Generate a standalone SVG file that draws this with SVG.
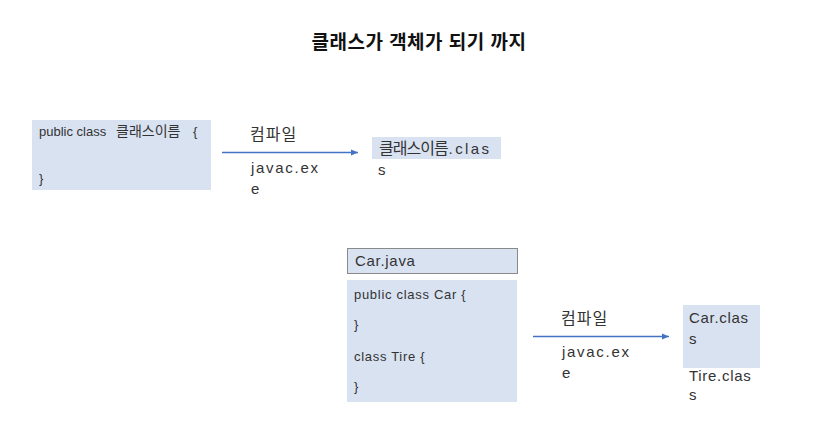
<svg xmlns="http://www.w3.org/2000/svg" width="827" height="438" viewBox="0 0 827 438">
<style>
.box{fill:#d9e2f1;}
.t{font-family:"Liberation Sans","Noto Sans CJK KR",sans-serif;fill:#333;}
.s{font-size:13px;}
.s2{font-size:13px;letter-spacing:0.7px;}
.m{font-size:15px;letter-spacing:0.7px;}
.k{font-size:16px;letter-spacing:1px;}
.j{font-size:15px;letter-spacing:1.7px;}
.c{stroke:#4472c4;stroke-width:1.3;fill:none;}
</style>
<defs>
<marker id="ah" markerWidth="8" markerHeight="8" refX="7" refY="4" orient="auto" markerUnits="userSpaceOnUse">
<path d="M0,1 L7,4 L0,7 Z" fill="#4472c4"/>
</marker>
</defs>
<rect width="827" height="438" fill="#fff"/>
<text x="419" y="49" text-anchor="middle" class="t" style="font-size:19px;letter-spacing:0.5px;font-weight:bold;fill:#111">클래스가 객체가 되기 까지</text>
<g id="src1">
<rect class="box" x="32" y="120" width="179" height="70"/>
<text class="t s" x="39" y="136">public class</text>
<text class="t s" x="116" y="136" style="font-size:14px;letter-spacing:0px">클래스이름</text>
<text class="t s" x="193" y="136">{</text>
<text class="t s" x="39" y="183">}</text>
</g>
<g id="cls1">
<rect class="box" x="372" y="137" width="129" height="22"/>
<text class="t m" x="379" y="154"><tspan style="font-size:16px;letter-spacing:-1px">클래스이름</tspan><tspan dx="1" style="letter-spacing:2.4px">.clas</tspan></text>
<text class="t m" x="378" y="175">s</text>
</g>
<g id="carjava">
<rect x="347.5" y="248.5" width="170" height="25" fill="#d9e2f1" stroke="#8a8a8a" stroke-width="1"/>
<text class="t m" x="355" y="266">Car.java</text>
</g>
<g id="src2">
<rect class="box" x="347" y="280" width="170" height="122"/>
<text class="t s2" x="354" y="299">public class Car {</text>
<text class="t s2" x="354" y="329">}</text>
<text class="t s2" x="354" y="361">class Tire {</text>
<text class="t s2" x="354" y="391">}</text>
</g>
<g id="cls2">
<rect class="box" x="683" y="305" width="77" height="63"/>
<text class="t m" x="689" y="323">Car.clas</text>
<text class="t m" x="689" y="344">s</text>
<text class="t m" x="689" y="381">Tire.clas</text>
<text class="t m" x="689" y="400">s</text>
</g>
<g id="connectors">
<line class="c" x1="222" y1="152.5" x2="358" y2="152.5" marker-end="url(#ah)"/>
<line class="c" x1="533" y1="336.5" x2="669" y2="336.5" marker-end="url(#ah)"/>
<text class="t k" x="250" y="140">컴파일</text>
<text class="t j" x="251" y="173">javac.ex</text>
<text class="t j" x="251" y="194">e</text>
<text class="t k" x="561" y="324">컴파일</text>
<text class="t j" x="562" y="357">javac.ex</text>
<text class="t j" x="562" y="378">e</text>
</g>
</svg>
